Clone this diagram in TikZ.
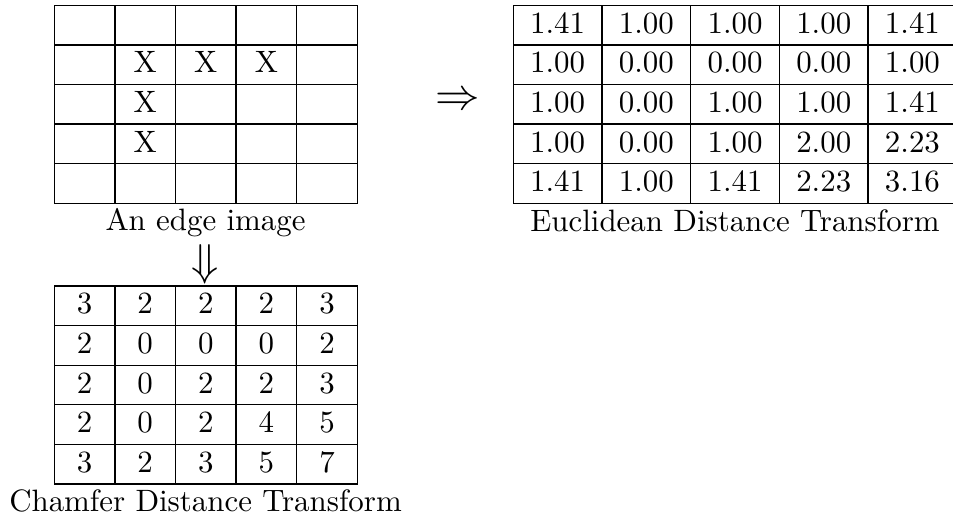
\documentclass[tikz,border=0pt]{standalone}
\begin{document}
\begin{tikzpicture}[x=0.3236pt,y=-0.3236pt,
  cell/.style={draw=black, line width=0.4pt, inner sep=0pt, outer sep=0pt,
    minimum height=12.82pt, text height=7pt, text depth=1.75pt, anchor=center},
  ecell/.style={cell, minimum width=19.61pt},
  dcell/.style={cell, minimum width=28.71pt},
  caption/.style={anchor=base, inner sep=0pt},
  bigarrow/.style={inner sep=0pt, font=\Large}]
\useasboundingbox (0,0) rectangle (953,520);
% edge image
\foreach \r/\va/\vb/\vc/\vd/\ve in {1/{}/{}/{}/{}/{}, 2/{}/X/X/X/{}, 3/{}/X/{}/{}/{}, 4/{}/X/{}/{}/{}, 5/{}/{}/{}/{}/{}}{
  \foreach \c/\v in {1/\va,2/\vb,3/\vc,4/\vd,5/\ve}
    \node[ecell] (e-\r-\c) at ({54.3+60.6*(\c-0.5)},{5.3+39.6*(\r-0.5)}) {\v};
}
% chamfer
\foreach \r/\va/\vb/\vc/\vd/\ve in {1/3/2/2/2/3, 2/2/0/0/0/2, 3/2/0/2/2/3, 4/2/0/2/4/5, 5/3/2/3/5/7}{
  \foreach \c/\v in {1/\va,2/\vb,3/\vc,4/\vd,5/\ve}
    \node[ecell] (c-\r-\c) at ({54.3+60.6*(\c-0.5)},{286+39.6*(\r-0.5)}) {\v};
}
% euclidean
\foreach \r/\va/\vb/\vc/\vd/\ve in {1/1.41/1.00/1.00/1.00/1.41, 2/1.00/0.00/0.00/0.00/1.00, 3/1.00/0.00/1.00/1.00/1.41, 4/1.00/0.00/1.00/2.00/2.23, 5/1.41/1.00/1.41/2.23/3.16}{
  \foreach \c/\v in {1/\va,2/\vb,3/\vc,4/\vd,5/\ve}
    \node[dcell] (d-\r-\c) at ({513.3+88.7*(\c-0.5)},{5.3+39.6*(\r-0.5)}) {\v};
}
\node[caption] (elabel) at (205.5,230.3) {An edge image};
\node[caption] (dlabel) at (735,231) {Euclidean Distance Transform};
\node[caption] (clabel) at (205.5,511.3) {Chamfer Distance Transform};
\node[bigarrow] (down) at (205,264) {$\Downarrow$};
\node[bigarrow] (right) at (457.5,101) {$\Rightarrow$};
\end{tikzpicture}
\end{document}
